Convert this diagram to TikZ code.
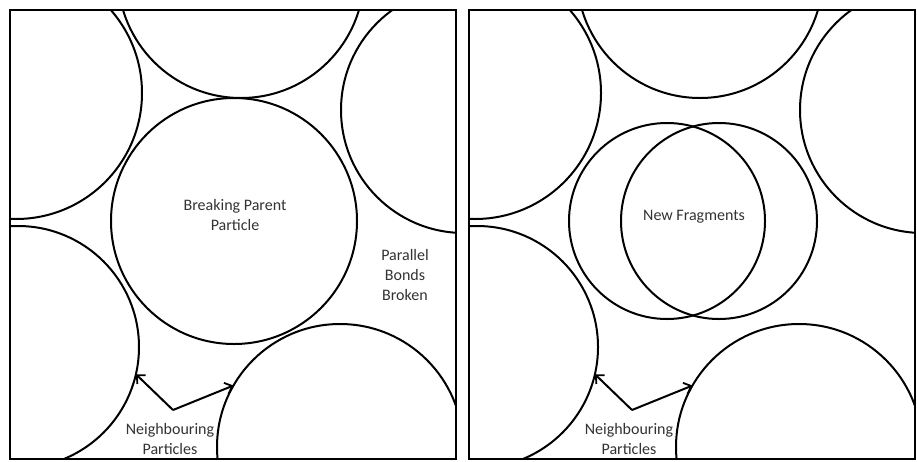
\documentclass[tikz,border=0pt]{standalone}
\usepackage{fontspec}
\setmainfont{Carlito}
\usetikzlibrary{arrows.meta}
\begin{document}
\begin{tikzpicture}[x=1pt,y=-1pt,
  ball/.style={circle,draw=black,line width=2pt,inner sep=0pt,outer sep=0pt,minimum size=#1},
  frame/.style={draw=black,line width=2.2pt},
  lbl/.style={font=\fontsize{16}{20}\selectfont,align=center,inner sep=0pt,text=black!80},
  ptr/.style={line width=2pt,-{Straight Barb[length=6.5pt,width=12pt,line width=1.8pt]}}]
\useasboundingbox (0,0) rectangle (917,461);
\fill[white] (0,0) rectangle (917,461);
\foreach \dx/\p in {0/L,459/R}{
  \begin{scope}[xshift=\dx pt]
    \begin{scope}
      \clip (10,10) rectangle (456,459);
      \node[ball=252pt] (tl\p) at (16,93) {};
      \node[ball=246pt] (tm\p) at (241,-25) {};
      \node[ball=246pt] (tr\p) at (464,110) {};
      \node[ball=242pt] (bl\p) at (18,347) {};
      \node[ball=246pt] (br\p) at (340,447) {};
    \end{scope}
    \node[frame,minimum width=446pt,minimum height=449pt,inner sep=0pt] (fr\p) at (233,234.5) {};
    \coordinate (v\p) at (173,410);
    \draw[ptr] (v\p) -- (bl\p.-13.5);
    \draw[ptr] (v\p) -- (br\p.150.4);
    \node[lbl] (nb\p) at (170,439) {Neighbouring\\Particles};
  \end{scope}
}
\node[ball=246pt] (parent) at (234,221) {};
\node[lbl] (ptxt) at (235,215) {Breaking Parent\\Particle};
\node[lbl] (bonds) at (405,275) {Parallel\\Bonds\\Broken};
\node[ball=196pt] (fragA) at (667,221) {};
\node[ball=196pt] (fragB) at (719,221) {};
\node[lbl] (ftxt) at (694,217) {New Fragments};
\end{tikzpicture}
\end{document}
